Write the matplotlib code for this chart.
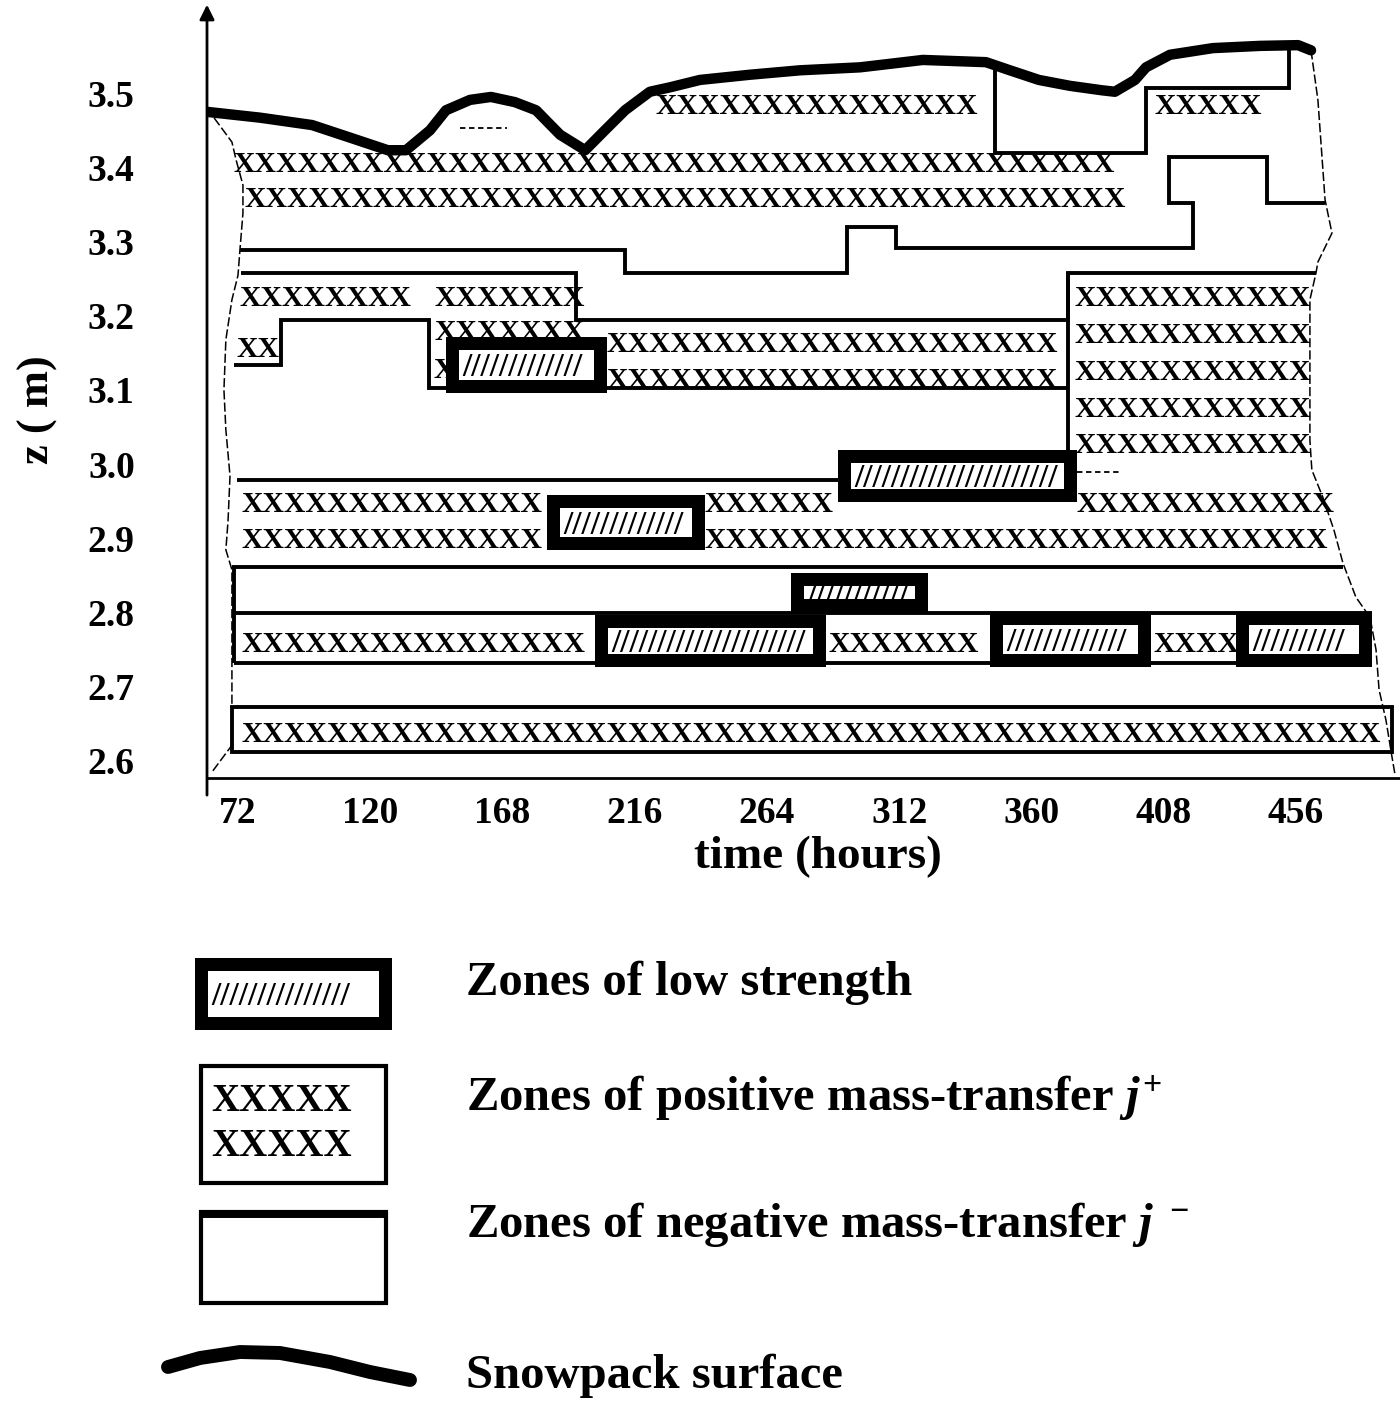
"""Snowpack zone diagram: low-strength zones, mass-transfer zones and surface height vs time."""
import matplotlib

matplotlib.use("Agg")
import matplotlib.pyplot as plt
from matplotlib.patches import Rectangle

SERIF = "Liberation Serif"
plt.rcParams["font.family"] = [SERIF, "DejaVu Serif"]
plt.rcParams["mathtext.fontset"] = "custom"
plt.rcParams["mathtext.rm"] = "Liberation Serif:bold"
plt.rcParams["mathtext.it"] = "Liberation Serif:italic:bold"
plt.rcParams["mathtext.bf"] = "Liberation Serif:bold"

# ---- data: time in hours, height z in m ----
HOURS = [72, 120, 168, 216, 264, 312, 360, 408, 456]
Z_TICKS = [2.6, 2.7, 2.8, 2.9, 3.0, 3.1, 3.2, 3.3, 3.4, 3.5]

SURF_T = [60.4, 80.0, 98.9, 112.7, 126.4, 133.0, 141.7, 147.5, 156.2, 163.8, 172.5, 180.2,
          188.9, 198.0, 205.2, 212.5, 221.5, 228.8, 239.7, 257.8, 276.0, 297.8, 320.6, 343.5,
          352.2, 362.7, 374.0, 385.6, 390.3, 397.6, 401.6, 410.3, 425.9, 443.0, 456.8, 461.5]
SURF_Z = [3.476, 3.468, 3.458, 3.441, 3.424, 3.424, 3.451, 3.478, 3.492, 3.496, 3.489, 3.478,
          3.445, 3.424, 3.451, 3.478, 3.503, 3.509, 3.519, 3.526, 3.532, 3.536, 3.546, 3.543,
          3.532, 3.519, 3.511, 3.505, 3.503, 3.519, 3.536, 3.553, 3.562, 3.565, 3.566, 3.559]

# rows of "X" (positive mass-transfer): start, end, height
POS_T0 = [223.4, 404.8, 70.5, 74.5, 72.4, 143.5, 71.6, 143.5, 142.8, 205.9, 205.9,
          375.8, 375.8, 375.8, 375.8, 375.8,
          73.1, 241.5, 376.5, 73.1, 241.5, 73.1, 286.5, 404.5, 73.1]
POS_T1 = [343.1, 447.0, 392.1, 392.1, 132.3, 194.7, 86.2, 194.7, 147.5, 366.7, 366.7,
          461.1, 461.1, 461.1, 461.1, 461.1,
          183.4, 289.8, 468.4, 183.4, 470.2, 197.2, 343.5, 433.2, 482.9]
POS_Z = [3.486, 3.486, 3.408, 3.361, 3.227, 3.227, 3.158, 3.181, 3.130, 3.164, 3.116,
         3.227, 3.177, 3.127, 3.077, 3.028,
         2.949, 2.949, 2.949, 2.900, 2.900, 2.759, 2.759, 2.759, 2.638]

# zones of low strength: start, end, bottom, top
LOW_T0 = [147.5, 184.2, 289.8, 272.7, 201.6, 345.0, 434.3]
LOW_T1 = [205.9, 241.5, 376.5, 322.5, 285.4, 403.4, 483.6]
LOW_Z0 = [3.096, 2.884, 2.949, 2.800, 2.726, 2.726, 2.726]
LOW_Z1 = [3.172, 2.958, 3.019, 2.853, 2.796, 2.800, 2.800]

# zone boundaries
BOUND_T = [
    [72.7, 212.5, 212.5, 293.1, 293.1, 310.8, 310.8, 418.6, 418.6, 409.9, 409.9, 445.5, 445.5, 466.6],
    [73.1, 194.7, 194.7, 373.3, 373.3, 463.3],
    [70.5, 87.6, 87.6, 141.3, 141.3, 373.3],
    [373.3, 373.3],
    [346.8, 346.8, 401.6, 401.6, 453.5, 453.5],
    [71.6, 289.8],
    [69.8, 473.1],
    [70.5, 70.5],
    [70.5, 483.6],
    [70.5, 483.6],
]
BOUND_Z = [
    [3.289, 3.289, 3.258, 3.258, 3.320, 3.320, 3.292, 3.292, 3.353, 3.353, 3.415, 3.415, 3.353, 3.353],
    [3.258, 3.258, 3.195, 3.195, 3.258, 3.258],
    [3.134, 3.134, 3.195, 3.195, 3.103, 3.103],
    [3.258, 3.019],
    [3.535, 3.420, 3.420, 3.508, 3.508, 3.562],
    [2.978, 2.978],
    [2.861, 2.861],
    [2.861, 2.731],
    [2.799, 2.799],
    [2.731, 2.731],
]
BASE_T = (69.8, 490.9)
BASE_Z = (2.611, 2.672)

DASH_T0 = [152.6, 376.5]
DASH_T1 = [169.6, 392.9]
DASH_Z = [3.454, 2.989]

LEFT_T = [60.7, 69.8, 71.3, 73.8, 73.8, 72.7, 72.0, 69.8, 67.6, 66.9, 67.6, 69.1, 68.4,
          67.6, 69.8, 69.8, 69.8, 62.6]
LEFT_Z = [3.481, 3.435, 3.411, 3.377, 3.339, 3.289, 3.255, 3.222, 3.168, 3.100, 3.046, 2.984,
          2.924, 2.884, 2.857, 2.681, 2.620, 2.584]
RIGHT_T = [461.5, 464.0, 466.6, 469.1, 464.0, 463.3, 461.1, 461.1, 461.8, 465.8, 469.8, 473.1,
           477.8, 482.9, 485.1, 486.2, 488.7, 490.9, 492.0]
RIGHT_Z = [3.559, 3.492, 3.357, 3.312, 3.273, 3.258, 3.222, 3.032, 2.992, 2.955, 2.911, 2.866,
           2.820, 2.793, 2.749, 2.695, 2.654, 2.604, 2.580]

LEG_LABELS = [
    "Zones of low strength",
    "Zones of positive mass-transfer $j^{+}$",
    "Zones of negative mass-transfer $j^{\\ -}$",
    "Snowpack surface",
]

W, H = 1400, 1406
fig = plt.figure(figsize=(W / 100, H / 100), dpi=100)
fig.patch.set_facecolor("white")

# legend panel in pixel units
lax = fig.add_axes([0, 0, 1, 1])
lax.set_xlim(0, W)
lax.set_ylim(H, 0)
lax.axis("off")

ax = fig.add_axes([207 / W, 1 - 778 / H, 1193 / W, 778 / H])
ax.set_xlim(60.75, 493.8)
ax.set_ylim(2.5757, 3.627)
ax.patch.set_alpha(0)

sx, sy = ax.transData.transform((1, 1)) - ax.transData.transform((0, 0))
pt = fig.dpi / 72

# positive mass-transfer rows
FS_X = 21.4
adv_x = 0.722 * FS_X * pt
cap_x = 0.662 * FS_X * pt
for t0, t1, z in zip(POS_T0, POS_T1, POS_Z):
    n = max(1, round((t1 - t0) * sx / adv_x))
    ax.text(t0, z - cap_x / 2 / sy, "X" * n, fontsize=FS_X, fontweight="bold",
            ha="left", va="baseline", zorder=2)

# boundaries
for ts, zs in zip(BOUND_T, BOUND_Z):
    ax.plot(ts, zs, color="black", lw=2.8, solid_joinstyle="miter", solid_capstyle="butt", zorder=3)
ax.add_patch(Rectangle((BASE_T[0], BASE_Z[0]), BASE_T[1] - BASE_T[0], BASE_Z[1] - BASE_Z[0],
                       facecolor="none", edgecolor="black", lw=2.8, zorder=3))
for t0, t1, z in zip(DASH_T0, DASH_T1, DASH_Z):
    ax.plot([t0, t1], [z, z], color="black", lw=1.3, ls=(0, (3, 2)), zorder=3)
ax.plot(LEFT_T, LEFT_Z, color="black", lw=1.1, ls=(0, (6, 2)), zorder=3)
ax.plot(RIGHT_T, RIGHT_Z, color="black", lw=1.1, ls=(0, (6, 2)), zorder=3)

# zones of low strength
FRAME = 13
FS_SL = 24
adv_sl = 0.278 * FS_SL * pt
mid_sl = 0.34 * FS_SL * pt


def low_box(axis, x0, x1, y0, y1, kx, ky, fill=1.0):
    fx, fy = FRAME / kx, FRAME / ky
    axis.add_patch(Rectangle((x0, y0), x1 - x0, y1 - y0, facecolor="black", edgecolor="none", zorder=4))
    axis.add_patch(Rectangle((x0 + fx, y0 + fy), x1 - x0 - 2 * fx, y1 - y0 - 2 * fy,
                             facecolor="white", edgecolor="none", zorder=5))
    n = int(fill * ((x1 - x0) * abs(kx) - 2 * FRAME - 8) / adv_sl)
    axis.text(x0 + fx + 3 / kx, (y0 + y1) / 2 - mid_sl / ky, "/" * n, fontsize=FS_SL,
              fontweight="bold", ha="left", va="baseline", zorder=6)


for t0, t1, z0, z1 in zip(LOW_T0, LOW_T1, LOW_Z0, LOW_Z1):
    low_box(ax, t0, t1, z0, z1, sx, sy)

# snowpack surface
ax.plot(SURF_T, SURF_Z, color="black", lw=7.5, solid_capstyle="round",
        solid_joinstyle="round", zorder=7)

# axes
for s in ("top", "right", "left"):
    ax.spines[s].set_visible(False)
ax.spines["bottom"].set_linewidth(2)
ax.annotate("", xy=(0, 0.994), xycoords="axes fraction", xytext=(0, -0.022),
            textcoords="axes fraction",
            arrowprops=dict(arrowstyle="-|>", lw=2, color="black", mutation_scale=22,
                            shrinkA=0, shrinkB=0))
ax.set_xticks(HOURS, [str(h) for h in HOURS])
ax.set_yticks(Z_TICKS, [f"{z:.1f}" for z in Z_TICKS])
ax.tick_params(length=0, labelsize=27)
ax.tick_params(axis="x", pad=13)
ax.tick_params(axis="y", pad=52)
for lab in ax.get_xticklabels() + ax.get_yticklabels():
    lab.set_fontweight("bold")

ax.set_xlabel("time (hours)", fontsize=34, fontweight="bold", va="center")
ax.xaxis.set_label_coords(0.512, -0.1015)
ax.set_ylabel("z ( m)", fontsize=32, fontweight="bold", va="center")
ax.yaxis.set_label_coords(-0.1417, 0.473)

# legend
low_box(lax, 195, 392, 1030, 958, 1, -1, fill=0.88)
lax.add_patch(Rectangle((201, 1066), 185, 117, facecolor="none", edgecolor="black", lw=3))
for yc in (1098, 1143):
    lax.text(211, yc + 0.662 * 28 * pt / 2, "XXXXX", fontsize=28, fontweight="bold",
             ha="left", va="baseline")
lax.add_patch(Rectangle((201, 1212), 185, 91, facecolor="none", edgecolor="black", lw=3))
lax.plot([201, 386], [1214, 1214], color="black", lw=5, solid_capstyle="butt")
lax.plot([168, 200, 240, 280, 330, 370, 410], [1367, 1358, 1352, 1353, 1362, 1372, 1380],
         color="black", lw=10, solid_capstyle="round", solid_joinstyle="round")
for label, yb in zip(LEG_LABELS, (995, 1110, 1237, 1388)):
    lax.text(466, yb, label, fontsize=35, fontweight="bold", ha="left", va="baseline")

fig.savefig("out.png", dpi=100, facecolor="white")
